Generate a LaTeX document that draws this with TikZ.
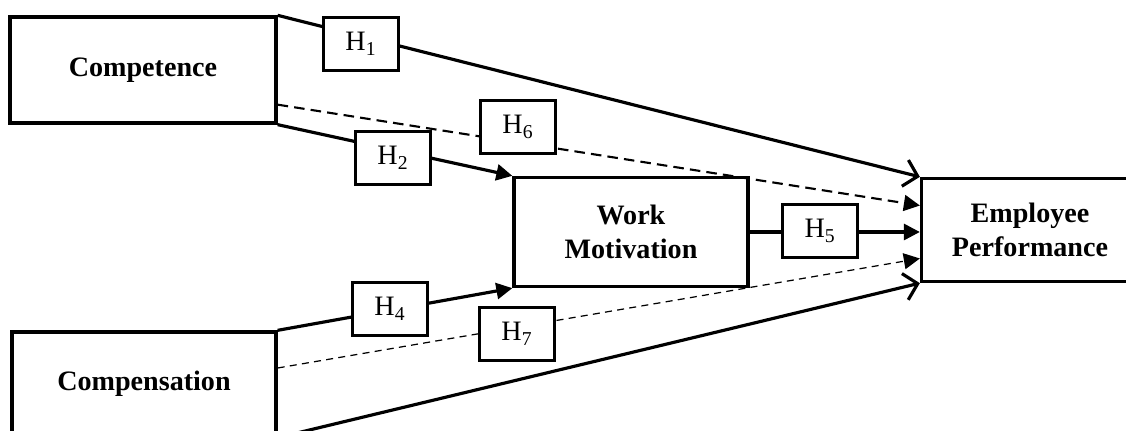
\documentclass[tikz,border=0pt]{standalone}
\usepackage{fontspec}
\setmainfont{Liberation Serif}
\usepackage{tikz}
\usetikzlibrary{arrows.meta}

\begin{document}
\begin{tikzpicture}[x=0.02cm,y=-0.02cm]
      \tikzset{var/.style={rectangle,draw=black,line width=1.9pt,align=center,
          font=\bfseries\fontsize{16}{19}\selectfont}}
      \tikzset{hyp/.style={rectangle,draw=black,line width=1.2pt,fill=white,
          minimum width=1.5cm,minimum height=1.06cm,font=\fontsize{16}{19}\selectfont}}
      \tikzset{solid arrow/.style={line width=1.8pt,-{Triangle[length=3.2mm,width=3.2mm]}}}
      \tikzset{open arrow/.style={line width=1.8pt,-{Straight Barb[length=2.6mm,width=5.4mm]}}}
      
      \useasboundingbox (0,0) rectangle (1126,431);
      
      \node[var,minimum width=5.32cm,minimum height=2.12cm] (comp) at (143,70) {Competence};
      \node[var,minimum width=5.28cm,minimum height=2.08cm] (compen) at (144,384) {Compensation};
      \node[var,minimum width=4.68cm,minimum height=2.18cm] (wm) at (631,232) {Work\\Motivation};
      \node[var,minimum width=4.34cm,minimum height=2.06cm] (ep) at (1030,230) {Employee\\Performance};
      
      \draw[open arrow] (comp.north east) -- (ep.north west);
      \draw[solid arrow,line width=1.2pt,dash pattern=on 6pt off 3.5pt] ([yshift=0.4cm]comp.south east) -- ([yshift=0.49cm]ep.west);
      \draw[solid arrow] (comp.south east) -- (wm.north west);
      \draw[solid arrow] (wm.east) -- (wm.east -| ep.west);
      \draw[solid arrow] (compen.north east) -- (wm.south west);
      \draw[solid arrow,line width=0.7pt,dash pattern=on 4pt off 3pt] ([yshift=0.32cm]compen.east) -- ([yshift=-0.57cm]ep.west);
      \draw[open arrow] (compen.south east) -- (ep.south west);
      
      \node[hyp] (h1) at (361,44) {H\textsubscript{1}};
      \node[hyp] (h2) at (393,158) {H\textsubscript{2}};
      \node[hyp] (h6) at (518,127) {H\textsubscript{6}};
      \node[hyp] (h5) at (820,231) {H\textsubscript{5}};
      \node[hyp] (h4) at (390,309) {H\textsubscript{4}};
      \node[hyp] (h7) at (517,334) {H\textsubscript{7}};
      
\end{tikzpicture}
\end{document}
